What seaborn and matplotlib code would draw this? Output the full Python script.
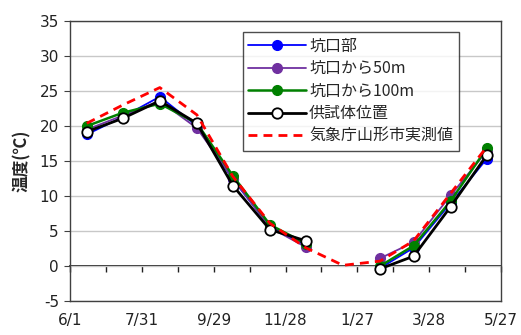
import numpy as np
import pandas as pd
import matplotlib
matplotlib.use("Agg")
import matplotlib.pyplot as plt
import matplotlib.dates as mdates
from matplotlib.lines import Line2D
import seaborn as sns

# Monthly measurement dates (no sensor reading in January)
dates = ["2012-06-15", "2012-07-15", "2012-08-15", "2012-09-15", "2012-10-15",
         "2012-11-15", "2012-12-15", "2013-01-15", "2013-02-15", "2013-03-15",
         "2013-04-15", "2013-05-15"]

# Temperatures (°C)
portal = [18.8, 21.3, 24.2, 20.0, 12.4, 5.6, 3.0, np.nan, -0.3, 2.6, 9.0, 15.3]
from_50m = [19.5, 21.5, 23.6, 19.7, 12.5, 5.5, 2.7, np.nan, 1.1, 3.4, 10.1, 16.4]
from_100m = [20.0, 21.9, 23.2, 20.4, 12.9, 5.9, 3.2, np.nan, 0.0, 2.9, 9.3, 16.8]
specimen = [19.2, 21.1, 23.6, 20.4, 11.5, 5.2, 3.6, np.nan, -0.4, 1.4, 8.5, 15.8]
jma_yamagata = [20.4, 23.0, 25.5, 21.6, 12.8, 6.1, 2.6, 0.1, 0.7, 3.6, 10.4, 17.0]

labels = ["坑口部", "坑口から50m", "坑口から100m", "供試体位置", "気象庁山形市実測値"]
tick_start, tick_end = "2012-06-01", "2013-05-27"
y_min, y_max = -5, 35

sns.set_style("white")
plt.rcParams["font.family"] = ["DejaVu Sans", "Noto Sans CJK JP"]
plt.rcParams["axes.unicode_minus"] = False

fig, ax = plt.subplots(figsize=(5.21, 3.35), dpi=100)
fig.subplots_adjust(left=0.1344, right=0.9616, top=0.937, bottom=0.1015)

x = pd.to_datetime(dates)

styles = [
    dict(color="#0000ff", lw=1.3, marker="o", ms=7, mfc="#0000ff", mec="#0000ff", ls="-"),
    dict(color="#7030a0", lw=1.3, marker="o", ms=7, mfc="#7030a0", mec="#7030a0", ls="-"),
    dict(color="#008000", lw=1.8, marker="o", ms=7, mfc="#008000", mec="#008000", ls="-"),
    dict(color="#000000", lw=2.0, marker="o", ms=7.5, mfc="white", mec="#000000", ls="-", mew=1.3),
    dict(color="#ff0000", lw=2.0, marker=None, ls=(0, (3.2, 2.2))),
]
series = [portal, from_50m, from_100m, specimen, jma_yamagata]

handles = []
for vals, st, lab in zip(series, styles, labels):
    v = pd.Series(vals, dtype=float)
    seg = v.isna().cumsum()
    df = pd.DataFrame({"date": x, "temp": v, "seg": seg}).dropna()
    kw = dict(color=st["color"], linewidth=st["lw"], linestyle=st["ls"])
    if st["marker"]:
        kw.update(marker=st["marker"], markersize=st["ms"],
                  markerfacecolor=st["mfc"], markeredgecolor=st["mec"],
                  markeredgewidth=st.get("mew", 1.0))
    sns.lineplot(data=df, x="date", y="temp", units="seg", estimator=None,
                 ax=ax, legend=False, **kw)
    handles.append(Line2D([], [], label=lab, **kw))

# Axes ranges and grid
ax.set_ylim(y_min, y_max)
ax.set_yticks(np.arange(y_min, y_max + 1, 5))
ax.set_xlim(pd.Timestamp(tick_start), pd.Timestamp(tick_end))
ax.yaxis.grid(True, color="#c8c8c8", lw=1.0)
ax.set_axisbelow(True)
ax.tick_params(axis="y", labelsize=11, length=4, width=0.8, color="#404040",
               direction="out", left=True, pad=4, labelcolor="#222222")
for s in ["top", "right", "left", "bottom"]:
    ax.spines[s].set_color("#404040")
    ax.spines[s].set_linewidth(1.0)

# Date labels along the bottom of the frame
major_ticks = pd.date_range(tick_start, tick_end, freq="60D")
ax.set_xticks(mdates.date2num(major_ticks))
ax.set_xticklabels([f"{d.month}/{d.day}" for d in major_ticks])
ax.tick_params(axis="x", length=0, labelsize=11, pad=9, labelcolor="#222222")
ax.set_xlabel("")

# Zero line carrying the 30-day tick marks
zero_axis = ax.secondary_xaxis((0 - y_min) / (y_max - y_min))
zero_axis.set_xticks(mdates.date2num(pd.date_range(tick_start, tick_end, freq="30D")))
zero_axis.tick_params(axis="x", direction="out", length=4, width=1.0, color="#202020",
                      labelbottom=False, labeltop=False, bottom=True, top=False)
zero_axis.spines["bottom"].set_color("#000000")
zero_axis.spines["bottom"].set_linewidth(1.2)

ax.set_ylabel("温度(℃)", fontsize=12, fontweight="bold", labelpad=6,
              family=["Noto Sans CJK JP", "DejaVu Sans"])

leg = ax.legend(handles=handles, loc="upper left", bbox_to_anchor=(0.401, 0.961),
                borderaxespad=0, frameon=True, fancybox=False,
                prop={"size": 11.5, "family": ["Noto Sans CJK JP", "DejaVu Sans"]},
                handlelength=3.6, handletextpad=0.2, labelspacing=0.35,
                borderpad=0.35, edgecolor="#202020")
leg.get_frame().set_linewidth(1.0)

fig.savefig("out.png", dpi=100)
